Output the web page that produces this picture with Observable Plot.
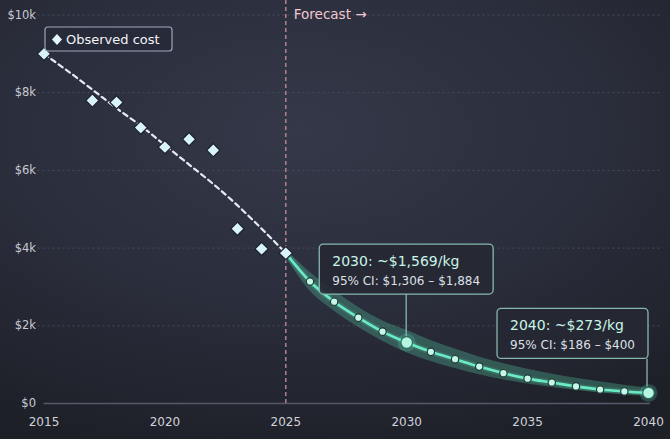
<!DOCTYPE html>
<html>
<head>
<meta charset="utf-8">
<script src="https://cdn.jsdelivr.net/npm/d3@7"></script>
<script src="https://cdn.jsdelivr.net/npm/@observablehq/plot@0.6"></script>
<style>
  html, body { margin: 0; padding: 0; width: 670px; height: 439px; overflow: hidden; }
  body {
    background: radial-gradient(ellipse 85% 75% at 45% 30%, #343848 0%, #2b2e3c 50%, #1e2028 100%);
  }
  #chart svg { display: block; }
</style>
</head>
<body>
<div id="chart"></div>
<script>
// Observed launch cost per kg (USD)
const observedYears = [2015, 2017, 2018, 2019, 2020, 2021, 2022, 2023, 2024, 2025];
const observedCost  = [9000, 7800, 7750, 7100, 6600, 6800, 6520, 4500, 3980, 3870];

// Smoothed trend through the observed period
const trendYears = [2015, 2016, 2017, 2018, 2019, 2020, 2021, 2022, 2023, 2024, 2025];
const trendCost  = [9000, 8550, 8080, 7600, 7150, 6650, 6150, 5650, 5100, 4500, 3870];

// Forecast with 95% confidence interval
const forecastYears = [2025, 2026, 2027, 2028, 2029, 2030, 2031, 2032, 2033, 2034, 2035, 2036, 2037, 2038, 2039, 2040];
const forecastCost  = [3870, 3140, 2620, 2210, 1850, 1569, 1330, 1140, 950, 780, 640, 540, 440, 360, 310, 273];
const ciLow         = [3780, 2900, 2380, 1960, 1600, 1306, 1080, 900, 740, 610, 500, 410, 340, 275, 225, 186];
const ciHigh        = [3960, 3380, 2900, 2480, 2130, 1884, 1620, 1400, 1200, 1030, 880, 760, 650, 560, 470, 400];

// Axis ticks
const xTicks = [2015, 2020, 2025, 2030, 2035, 2040];
const yTicks = [0, 2000, 4000, 6000, 8000, 10000];
const yTickLabels = ["$0", "$2k", "$4k", "$6k", "$8k", "$10k"];

const forecastStart = 2025;
const highlightYears = [2030, 2040];
const legendLabel = "Observed cost";
const forecastLabel = "Forecast \u2192";

const observed = observedYears.map((year, i) => ({year, cost: observedCost[i]}));
const trend = trendYears.map((year, i) => ({year, cost: trendCost[i]}));
const forecast = forecastYears.map((year, i) => ({year, cost: forecastCost[i], lo: ciLow[i], hi: ciHigh[i]}));
const forecastDots = forecast.filter(d => d.year !== forecastStart && !highlightYears.includes(d.year));
const highlights = forecast.filter(d => highlightYears.includes(d.year));

const MINT = "#6aebc6";

const plot = Plot.plot({
  width: 670,
  height: 439,
  marginLeft: 43.5,
  marginRight: 22,
  marginTop: 14.5,
  marginBottom: 36,
  style: {background: "transparent", color: "#c7cad3", fontFamily: "'DejaVu Sans', sans-serif", fontSize: "11px", overflow: "visible"},
  x: {domain: [2015, 2040], ticks: xTicks, tickFormat: d => String(d), tickSize: 0, tickPadding: 14, label: null},
  y: {domain: [0, 10000], ticks: yTicks, tickFormat: d => yTickLabels[yTicks.indexOf(d)], tickSize: 0, tickPadding: 8, label: null},
  marks: [
    // dotted horizontal grid
    Plot.ruleY(yTicks.filter(d => d > 0), {stroke: "#474c5d", strokeDasharray: "2,3", strokeWidth: 1, insetLeft: -6, insetRight: -14}),
    // baseline
    Plot.ruleY([0], {stroke: "#555a69", strokeWidth: 1.5, insetRight: -2}),
    // forecast divider
    Plot.ruleX([forecastStart], {y1: 0, y2: 10380, stroke: "#b98894", strokeDasharray: "4,3", strokeWidth: 1.4}),
    Plot.text([forecastLabel], {x: forecastStart, y: 10000, text: d => d, textAnchor: "start", lineAnchor: "middle", dx: 8, fill: "#f2c7cf", fontSize: 13.5}),
    // confidence band
    Plot.areaY(forecast, {x: "year", y1: "lo", y2: "hi", curve: "monotone-x", fill: "#4fb596", fillOpacity: 0.36}),
    // trend line
    Plot.line(trend, {x: "year", y: "cost", curve: "monotone-x", stroke: "#e6ebf2", strokeWidth: 2.2, strokeDasharray: "5,4"}),
    // forecast line with glow
    Plot.line(forecast, {x: "year", y: "cost", curve: "monotone-x", stroke: MINT, strokeWidth: 6, strokeOpacity: 0.15}),
    Plot.line(forecast, {x: "year", y: "cost", curve: "monotone-x", stroke: MINT, strokeWidth: 2.6}),
    // forecast points
    Plot.dot(forecastDots, {x: "year", y: "cost", r: 3.7, fill: "#c6f6e7", stroke: "#1d3a33", strokeWidth: 1.2}),
    Plot.dot(highlights, {x: "year", y: "cost", r: 9, fill: MINT, fillOpacity: 0.2}),
    Plot.dot(highlights, {x: "year", y: "cost", r: 5.8, fill: "#b6f7e2", stroke: "#2a6b5a", strokeWidth: 1.2}),
    // observed points
    Plot.dot(observed, {x: "year", y: "cost", symbol: "diamond2", r: 6, fill: "#d8f4fa", stroke: "#1f2330", strokeWidth: 1.3})
  ]
});

document.getElementById("chart").append(plot);

const svg = d3.select(plot);
svg.selectAll('g[aria-label^="x-axis"] text').attr("font-size", 12).attr("fill", "#d0d3da");
svg.selectAll('g[aria-label^="y-axis"] text').attr("font-size", 11.5).attr("fill", "#c7cad3");

const xs = plot.scale("x"), ys = plot.scale("y");
const fmt = d3.format(",");

// Callout boxes for the highlighted forecast years
const layer = svg.append("g").attr("font-family", "'DejaVu Sans', sans-serif").attr("text-anchor", "start");
highlights.forEach((h, k) => {
  const px = xs.apply(h.year), py = ys.apply(h.cost);
  const g = layer.append("g");
  const rect = g.append("rect");
  const t1 = g.append("text").attr("font-size", 14).attr("fill", "#c8f5e7")
    .text(`${h.year}: ~$${fmt(h.cost)}/kg`);
  const t2 = g.append("text").attr("font-size", 12).attr("fill", "#dde0e6")
    .text(`95% CI: $${fmt(h.lo)} \u2013 $${fmt(h.hi)}`);
  const w = Math.max(t1.node().getBBox().width, t2.node().getBBox().width);
  const padL = 13, padR = 13, boxH = 50;
  const boxW = w + padL + padR;
  const last = k === highlights.length - 1;
  const gap = last ? 34 : 48;
  const boxX = last ? px - boxW : px - boxW / 2;
  const boxY = py - gap - boxH;
  const cx = last ? px - 1 : px;
  rect.attr("x", boxX).attr("y", boxY).attr("width", boxW).attr("height", boxH).attr("rx", 4)
    .attr("fill", "#252833").attr("fill-opacity", 0.88).attr("stroke", "#86b8ad").attr("stroke-width", 1.3);
  t1.attr("x", boxX + padL).attr("y", boxY + 22);
  t2.attr("x", boxX + padL).attr("y", boxY + 41);
  g.insert("line", "rect").attr("x1", cx).attr("x2", cx).attr("y1", boxY + boxH).attr("y2", py - 6)
    .attr("stroke", "#86b8ad").attr("stroke-width", 1.3);
});

// Legend
const lg = svg.append("g").attr("font-family", "'DejaVu Sans', sans-serif").attr("text-anchor", "start");
lg.append("rect").attr("x", 45).attr("y", 27).attr("width", 127).attr("height", 24).attr("rx", 3)
  .attr("fill", "#272a37").attr("fill-opacity", 0.9).attr("stroke", "#9ba8bb").attr("stroke-width", 1.2);
lg.append("path").attr("d", "M57,34L62,39.5L57,45L52,39.5Z").attr("fill", "#e2f6fb");
lg.append("text").attr("x", 66).attr("y", 44).attr("font-size", 13).attr("fill", "#f2f4f8").text(legendLabel);
</script>
</body>
</html>
